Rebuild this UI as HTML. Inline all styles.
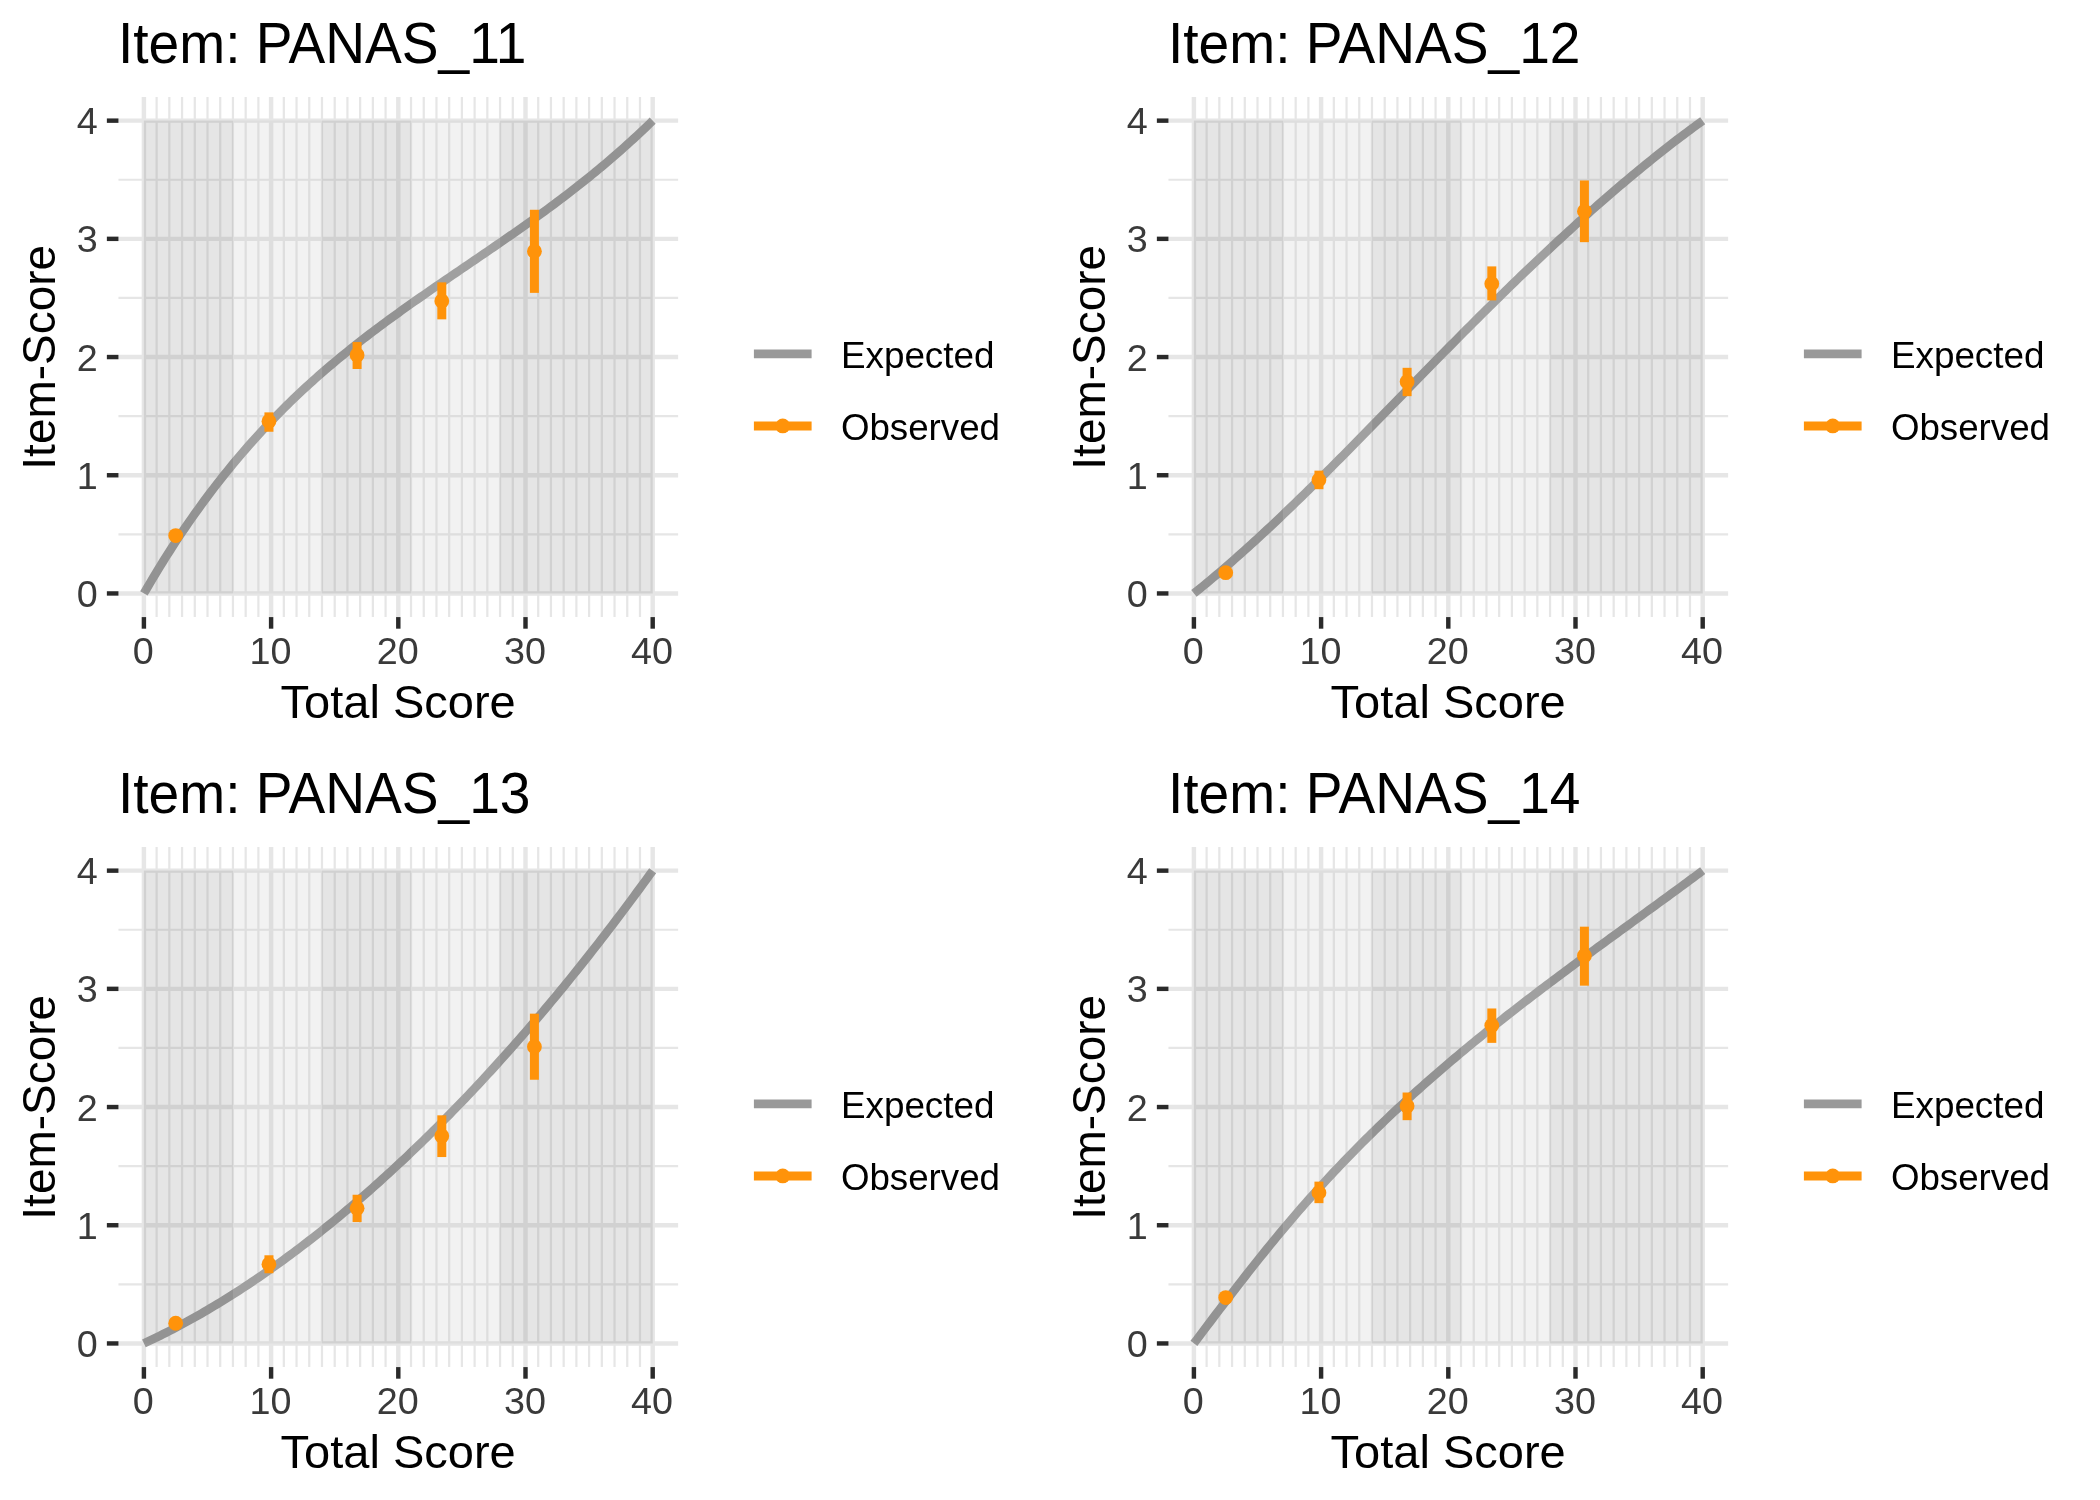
<!DOCTYPE html>
<html><head><meta charset="utf-8"><title>Item plots</title>
<style>
html,body{margin:0;padding:0;background:#fff;}
body{width:2100px;height:1500px;overflow:hidden;}
svg{display:block;font-family:"Liberation Sans",sans-serif;will-change:transform;}
</style></head><body>
<svg width="2100" height="1500" viewBox="0 0 2100 1500">
<rect width="2100" height="1500" fill="#fff"/>
<g transform="translate(0,0)">
<g stroke="#E6E6E6"><line x1="156.62" y1="97.01" x2="156.62" y2="617.09" stroke-width="2.22"/><line x1="169.34" y1="97.01" x2="169.34" y2="617.09" stroke-width="2.22"/><line x1="182.06" y1="97.01" x2="182.06" y2="617.09" stroke-width="2.22"/><line x1="194.78" y1="97.01" x2="194.78" y2="617.09" stroke-width="2.22"/><line x1="207.50" y1="97.01" x2="207.50" y2="617.09" stroke-width="2.22"/><line x1="220.22" y1="97.01" x2="220.22" y2="617.09" stroke-width="2.22"/><line x1="232.94" y1="97.01" x2="232.94" y2="617.09" stroke-width="2.22"/><line x1="245.66" y1="97.01" x2="245.66" y2="617.09" stroke-width="2.22"/><line x1="258.38" y1="97.01" x2="258.38" y2="617.09" stroke-width="2.22"/><line x1="283.82" y1="97.01" x2="283.82" y2="617.09" stroke-width="2.22"/><line x1="296.54" y1="97.01" x2="296.54" y2="617.09" stroke-width="2.22"/><line x1="309.26" y1="97.01" x2="309.26" y2="617.09" stroke-width="2.22"/><line x1="321.98" y1="97.01" x2="321.98" y2="617.09" stroke-width="2.22"/><line x1="334.70" y1="97.01" x2="334.70" y2="617.09" stroke-width="2.22"/><line x1="347.42" y1="97.01" x2="347.42" y2="617.09" stroke-width="2.22"/><line x1="360.14" y1="97.01" x2="360.14" y2="617.09" stroke-width="2.22"/><line x1="372.86" y1="97.01" x2="372.86" y2="617.09" stroke-width="2.22"/><line x1="385.58" y1="97.01" x2="385.58" y2="617.09" stroke-width="2.22"/><line x1="411.02" y1="97.01" x2="411.02" y2="617.09" stroke-width="2.22"/><line x1="423.74" y1="97.01" x2="423.74" y2="617.09" stroke-width="2.22"/><line x1="436.46" y1="97.01" x2="436.46" y2="617.09" stroke-width="2.22"/><line x1="449.18" y1="97.01" x2="449.18" y2="617.09" stroke-width="2.22"/><line x1="461.90" y1="97.01" x2="461.90" y2="617.09" stroke-width="2.22"/><line x1="474.62" y1="97.01" x2="474.62" y2="617.09" stroke-width="2.22"/><line x1="487.34" y1="97.01" x2="487.34" y2="617.09" stroke-width="2.22"/><line x1="500.06" y1="97.01" x2="500.06" y2="617.09" stroke-width="2.22"/><line x1="512.78" y1="97.01" x2="512.78" y2="617.09" stroke-width="2.22"/><line x1="538.22" y1="97.01" x2="538.22" y2="617.09" stroke-width="2.22"/><line x1="550.94" y1="97.01" x2="550.94" y2="617.09" stroke-width="2.22"/><line x1="563.66" y1="97.01" x2="563.66" y2="617.09" stroke-width="2.22"/><line x1="576.38" y1="97.01" x2="576.38" y2="617.09" stroke-width="2.22"/><line x1="589.10" y1="97.01" x2="589.10" y2="617.09" stroke-width="2.22"/><line x1="601.82" y1="97.01" x2="601.82" y2="617.09" stroke-width="2.22"/><line x1="614.54" y1="97.01" x2="614.54" y2="617.09" stroke-width="2.22"/><line x1="627.26" y1="97.01" x2="627.26" y2="617.09" stroke-width="2.22"/><line x1="639.98" y1="97.01" x2="639.98" y2="617.09" stroke-width="2.22"/><line x1="118.46" y1="534.35" x2="678.14" y2="534.35" stroke-width="2.22"/><line x1="118.46" y1="416.15" x2="678.14" y2="416.15" stroke-width="2.22"/><line x1="118.46" y1="297.95" x2="678.14" y2="297.95" stroke-width="2.22"/><line x1="118.46" y1="179.75" x2="678.14" y2="179.75" stroke-width="2.22"/><line x1="143.90" y1="97.01" x2="143.90" y2="617.09" stroke-width="4.44"/><line x1="271.10" y1="97.01" x2="271.10" y2="617.09" stroke-width="4.44"/><line x1="398.30" y1="97.01" x2="398.30" y2="617.09" stroke-width="4.44"/><line x1="525.50" y1="97.01" x2="525.50" y2="617.09" stroke-width="4.44"/><line x1="652.70" y1="97.01" x2="652.70" y2="617.09" stroke-width="4.44"/><line x1="118.46" y1="593.45" x2="678.14" y2="593.45" stroke-width="4.44"/><line x1="118.46" y1="475.25" x2="678.14" y2="475.25" stroke-width="4.44"/><line x1="118.46" y1="357.05" x2="678.14" y2="357.05" stroke-width="4.44"/><line x1="118.46" y1="238.85" x2="678.14" y2="238.85" stroke-width="4.44"/><line x1="118.46" y1="120.65" x2="678.14" y2="120.65" stroke-width="4.44"/></g>
<path d="M143.90,593.45 L147.08,587.98 L150.26,582.57 L153.44,577.24 L156.62,571.97 L159.80,566.77 L162.98,561.64 L166.16,556.58 L169.34,551.58 L172.52,546.64 L175.70,541.77 L178.88,536.96 L182.06,532.22 L185.24,527.53 L188.42,522.91 L191.60,518.34 L194.78,513.84 L197.96,509.39 L201.14,505.00 L204.32,500.66 L207.50,496.38 L210.68,492.16 L213.86,487.99 L217.04,483.87 L220.22,479.81 L223.40,475.79 L226.58,471.83 L229.76,467.92 L232.94,464.05 L236.12,460.24 L239.30,456.47 L242.48,452.75 L245.66,449.07 L248.84,445.44 L252.02,441.85 L255.20,438.31 L258.38,434.81 L261.56,431.35 L264.74,427.94 L267.92,424.56 L271.10,421.23 L274.28,417.93 L277.46,414.68 L280.64,411.46 L283.82,408.28 L287.00,405.13 L290.18,402.03 L293.36,398.95 L296.54,395.92 L299.72,392.91 L302.90,389.94 L306.08,387.01 L309.26,384.10 L312.44,381.23 L315.62,378.38 L318.80,375.57 L321.98,372.78 L325.16,370.03 L328.34,367.30 L331.52,364.60 L334.70,361.92 L337.88,359.27 L341.06,356.65 L344.24,354.05 L347.42,351.47 L350.60,348.92 L353.78,346.39 L356.96,343.88 L360.14,341.39 L363.32,338.92 L366.50,336.47 L369.68,334.04 L372.86,331.63 L376.04,329.23 L379.22,326.85 L382.40,324.49 L385.58,322.14 L388.76,319.81 L391.94,317.49 L395.12,315.18 L398.30,312.89 L401.48,310.61 L404.66,308.34 L407.84,306.08 L411.02,303.83 L414.20,301.59 L417.38,299.36 L420.56,297.14 L423.74,294.92 L426.92,292.72 L430.10,290.52 L433.28,288.32 L436.46,286.13 L439.64,283.95 L442.82,281.77 L446.00,279.60 L449.18,277.43 L452.36,275.26 L455.54,273.10 L458.72,270.93 L461.90,268.77 L465.08,266.61 L468.26,264.45 L471.44,262.29 L474.62,260.12 L477.80,257.96 L480.98,255.80 L484.16,253.63 L487.34,251.46 L490.52,249.28 L493.70,247.10 L496.88,244.92 L500.06,242.73 L503.24,240.53 L506.42,238.33 L509.60,236.13 L512.78,233.91 L515.96,231.69 L519.14,229.45 L522.32,227.21 L525.50,224.96 L528.68,222.70 L531.86,220.43 L535.04,218.14 L538.22,215.85 L541.40,213.54 L544.58,211.22 L547.76,208.89 L550.94,206.54 L554.12,204.18 L557.30,201.80 L560.48,199.40 L563.66,196.99 L566.84,194.57 L570.02,192.12 L573.20,189.66 L576.38,187.18 L579.56,184.68 L582.74,182.16 L585.92,179.62 L589.10,177.06 L592.28,174.48 L595.46,171.87 L598.64,169.25 L601.82,166.60 L605.00,163.93 L608.18,161.23 L611.36,158.51 L614.54,155.76 L617.72,152.99 L620.90,150.19 L624.08,147.37 L627.26,144.52 L630.44,141.64 L633.62,138.73 L636.80,135.79 L639.98,132.82 L643.16,129.83 L646.34,126.80 L649.52,123.74 L652.70,120.65" fill="none" stroke="#999999" stroke-width="8.6" stroke-linecap="butt" stroke-linejoin="round"/>
<rect x="143.90" y="120.65" width="89.04" height="472.80" fill="#7F7F7F" fill-opacity="0.2"/>
<rect x="232.94" y="120.65" width="89.04" height="472.80" fill="#BFBFBF" fill-opacity="0.2"/>
<rect x="321.98" y="120.65" width="89.04" height="472.80" fill="#7F7F7F" fill-opacity="0.2"/>
<rect x="411.02" y="120.65" width="89.04" height="472.80" fill="#BFBFBF" fill-opacity="0.2"/>
<rect x="500.06" y="120.65" width="152.64" height="472.80" fill="#7F7F7F" fill-opacity="0.2"/>
<line x1="268.94" y1="431.75" x2="268.94" y2="412.37" stroke="#FF930A" stroke-width="9.0"/>
<line x1="357.09" y1="368.99" x2="357.09" y2="342.04" stroke="#FF930A" stroke-width="9.0"/>
<line x1="441.80" y1="319.34" x2="441.80" y2="282.35" stroke="#FF930A" stroke-width="9.0"/>
<line x1="534.40" y1="292.87" x2="534.40" y2="209.77" stroke="#FF930A" stroke-width="9.0"/>
<circle cx="175.70" cy="535.53" r="7.4" fill="#FF930A"/>
<circle cx="268.94" cy="421.35" r="7.4" fill="#FF930A"/>
<circle cx="357.09" cy="355.04" r="7.4" fill="#FF930A"/>
<circle cx="441.80" cy="301.02" r="7.4" fill="#FF930A"/>
<circle cx="534.40" cy="251.26" r="7.4" fill="#FF930A"/>
<g stroke="#2A2A2A" stroke-width="4.44"><line x1="143.90" y1="617.09" x2="143.90" y2="628.69"/><line x1="271.10" y1="617.09" x2="271.10" y2="628.69"/><line x1="398.30" y1="617.09" x2="398.30" y2="628.69"/><line x1="525.50" y1="617.09" x2="525.50" y2="628.69"/><line x1="652.70" y1="617.09" x2="652.70" y2="628.69"/><line x1="106.86" y1="593.45" x2="118.46" y2="593.45"/><line x1="106.86" y1="475.25" x2="118.46" y2="475.25"/><line x1="106.86" y1="357.05" x2="118.46" y2="357.05"/><line x1="106.86" y1="238.85" x2="118.46" y2="238.85"/><line x1="106.86" y1="120.65" x2="118.46" y2="120.65"/></g>
<g fill="#3A3A3A" font-size="36.67"><text transform="translate(143.30,664.1) scale(1.03,1.025)" text-anchor="middle">0</text><text transform="translate(270.50,664.1) scale(1.03,1.025)" text-anchor="middle">10</text><text transform="translate(397.70,664.1) scale(1.03,1.025)" text-anchor="middle">20</text><text transform="translate(524.90,664.1) scale(1.03,1.025)" text-anchor="middle">30</text><text transform="translate(652.10,664.1) scale(1.03,1.025)" text-anchor="middle">40</text><text transform="translate(97.7,606.95) scale(1.03,1.025)" text-anchor="end">0</text><text transform="translate(97.7,488.75) scale(1.03,1.025)" text-anchor="end">1</text><text transform="translate(97.7,370.55) scale(1.03,1.025)" text-anchor="end">2</text><text transform="translate(97.7,252.35) scale(1.03,1.025)" text-anchor="end">3</text><text transform="translate(97.7,134.15) scale(1.03,1.025)" text-anchor="end">4</text></g>
<text transform="translate(118.0,62.9) scale(1.002,1.046)" font-size="55">Item: PANAS_11</text>
<text transform="translate(398.16,718.0) scale(1.0257,1.028)" font-size="45.83" text-anchor="middle">Total Score</text>
<text transform="translate(54.9,357.3) rotate(-90) scale(1.003,1.022)" font-size="45.83" text-anchor="middle">Item-Score</text>
<line x1="753.9" y1="353.9" x2="811.6" y2="353.9" stroke="#999999" stroke-width="8.6"/>
<line x1="753.9" y1="425.9" x2="811.6" y2="425.9" stroke="#FF930A" stroke-width="9.0"/>
<circle cx="782.75" cy="425.9" r="7.4" fill="#FF930A"/>
<text transform="translate(840.9,368.0) scale(1.005,1)" font-size="36.67">Expected</text>
<text transform="translate(840.9,440.0) scale(1.001,1)" font-size="36.67">Observed</text>
</g>
<g transform="translate(1050,0)">
<g stroke="#E6E6E6"><line x1="156.62" y1="97.01" x2="156.62" y2="617.09" stroke-width="2.22"/><line x1="169.34" y1="97.01" x2="169.34" y2="617.09" stroke-width="2.22"/><line x1="182.06" y1="97.01" x2="182.06" y2="617.09" stroke-width="2.22"/><line x1="194.78" y1="97.01" x2="194.78" y2="617.09" stroke-width="2.22"/><line x1="207.50" y1="97.01" x2="207.50" y2="617.09" stroke-width="2.22"/><line x1="220.22" y1="97.01" x2="220.22" y2="617.09" stroke-width="2.22"/><line x1="232.94" y1="97.01" x2="232.94" y2="617.09" stroke-width="2.22"/><line x1="245.66" y1="97.01" x2="245.66" y2="617.09" stroke-width="2.22"/><line x1="258.38" y1="97.01" x2="258.38" y2="617.09" stroke-width="2.22"/><line x1="283.82" y1="97.01" x2="283.82" y2="617.09" stroke-width="2.22"/><line x1="296.54" y1="97.01" x2="296.54" y2="617.09" stroke-width="2.22"/><line x1="309.26" y1="97.01" x2="309.26" y2="617.09" stroke-width="2.22"/><line x1="321.98" y1="97.01" x2="321.98" y2="617.09" stroke-width="2.22"/><line x1="334.70" y1="97.01" x2="334.70" y2="617.09" stroke-width="2.22"/><line x1="347.42" y1="97.01" x2="347.42" y2="617.09" stroke-width="2.22"/><line x1="360.14" y1="97.01" x2="360.14" y2="617.09" stroke-width="2.22"/><line x1="372.86" y1="97.01" x2="372.86" y2="617.09" stroke-width="2.22"/><line x1="385.58" y1="97.01" x2="385.58" y2="617.09" stroke-width="2.22"/><line x1="411.02" y1="97.01" x2="411.02" y2="617.09" stroke-width="2.22"/><line x1="423.74" y1="97.01" x2="423.74" y2="617.09" stroke-width="2.22"/><line x1="436.46" y1="97.01" x2="436.46" y2="617.09" stroke-width="2.22"/><line x1="449.18" y1="97.01" x2="449.18" y2="617.09" stroke-width="2.22"/><line x1="461.90" y1="97.01" x2="461.90" y2="617.09" stroke-width="2.22"/><line x1="474.62" y1="97.01" x2="474.62" y2="617.09" stroke-width="2.22"/><line x1="487.34" y1="97.01" x2="487.34" y2="617.09" stroke-width="2.22"/><line x1="500.06" y1="97.01" x2="500.06" y2="617.09" stroke-width="2.22"/><line x1="512.78" y1="97.01" x2="512.78" y2="617.09" stroke-width="2.22"/><line x1="538.22" y1="97.01" x2="538.22" y2="617.09" stroke-width="2.22"/><line x1="550.94" y1="97.01" x2="550.94" y2="617.09" stroke-width="2.22"/><line x1="563.66" y1="97.01" x2="563.66" y2="617.09" stroke-width="2.22"/><line x1="576.38" y1="97.01" x2="576.38" y2="617.09" stroke-width="2.22"/><line x1="589.10" y1="97.01" x2="589.10" y2="617.09" stroke-width="2.22"/><line x1="601.82" y1="97.01" x2="601.82" y2="617.09" stroke-width="2.22"/><line x1="614.54" y1="97.01" x2="614.54" y2="617.09" stroke-width="2.22"/><line x1="627.26" y1="97.01" x2="627.26" y2="617.09" stroke-width="2.22"/><line x1="639.98" y1="97.01" x2="639.98" y2="617.09" stroke-width="2.22"/><line x1="118.46" y1="534.35" x2="678.14" y2="534.35" stroke-width="2.22"/><line x1="118.46" y1="416.15" x2="678.14" y2="416.15" stroke-width="2.22"/><line x1="118.46" y1="297.95" x2="678.14" y2="297.95" stroke-width="2.22"/><line x1="118.46" y1="179.75" x2="678.14" y2="179.75" stroke-width="2.22"/><line x1="143.90" y1="97.01" x2="143.90" y2="617.09" stroke-width="4.44"/><line x1="271.10" y1="97.01" x2="271.10" y2="617.09" stroke-width="4.44"/><line x1="398.30" y1="97.01" x2="398.30" y2="617.09" stroke-width="4.44"/><line x1="525.50" y1="97.01" x2="525.50" y2="617.09" stroke-width="4.44"/><line x1="652.70" y1="97.01" x2="652.70" y2="617.09" stroke-width="4.44"/><line x1="118.46" y1="593.45" x2="678.14" y2="593.45" stroke-width="4.44"/><line x1="118.46" y1="475.25" x2="678.14" y2="475.25" stroke-width="4.44"/><line x1="118.46" y1="357.05" x2="678.14" y2="357.05" stroke-width="4.44"/><line x1="118.46" y1="238.85" x2="678.14" y2="238.85" stroke-width="4.44"/><line x1="118.46" y1="120.65" x2="678.14" y2="120.65" stroke-width="4.44"/></g>
<path d="M143.90,593.45 L147.08,590.90 L150.26,588.33 L153.44,585.73 L156.62,583.11 L159.80,580.47 L162.98,577.81 L166.16,575.13 L169.34,572.43 L172.52,569.71 L175.70,566.97 L178.88,564.21 L182.06,561.44 L185.24,558.64 L188.42,555.83 L191.60,553.00 L194.78,550.15 L197.96,547.28 L201.14,544.40 L204.32,541.50 L207.50,538.59 L210.68,535.66 L213.86,532.71 L217.04,529.75 L220.22,526.77 L223.40,523.79 L226.58,520.78 L229.76,517.77 L232.94,514.74 L236.12,511.70 L239.30,508.64 L242.48,505.58 L245.66,502.50 L248.84,499.41 L252.02,496.31 L255.20,493.20 L258.38,490.07 L261.56,486.94 L264.74,483.80 L267.92,480.65 L271.10,477.49 L274.28,474.33 L277.46,471.15 L280.64,467.97 L283.82,464.77 L287.00,461.58 L290.18,458.37 L293.36,455.16 L296.54,451.94 L299.72,448.72 L302.90,445.49 L306.08,442.26 L309.26,439.02 L312.44,435.77 L315.62,432.53 L318.80,429.28 L321.98,426.02 L325.16,422.77 L328.34,419.51 L331.52,416.25 L334.70,412.98 L337.88,409.72 L341.06,406.45 L344.24,403.18 L347.42,399.92 L350.60,396.65 L353.78,393.38 L356.96,390.12 L360.14,386.85 L363.32,383.59 L366.50,380.32 L369.68,377.06 L372.86,373.80 L376.04,370.55 L379.22,367.29 L382.40,364.05 L385.58,360.80 L388.76,357.56 L391.94,354.32 L395.12,351.09 L398.30,347.86 L401.48,344.64 L404.66,341.42 L407.84,338.21 L411.02,335.01 L414.20,331.81 L417.38,328.62 L420.56,325.43 L423.74,322.25 L426.92,319.08 L430.10,315.92 L433.28,312.76 L436.46,309.61 L439.64,306.46 L442.82,303.33 L446.00,300.20 L449.18,297.08 L452.36,293.96 L455.54,290.86 L458.72,287.76 L461.90,284.68 L465.08,281.60 L468.26,278.53 L471.44,275.46 L474.62,272.41 L477.80,269.37 L480.98,266.33 L484.16,263.31 L487.34,260.29 L490.52,257.29 L493.70,254.29 L496.88,251.31 L500.06,248.33 L503.24,245.37 L506.42,242.41 L509.60,239.47 L512.78,236.54 L515.96,233.62 L519.14,230.71 L522.32,227.81 L525.50,224.92 L528.68,222.05 L531.86,219.18 L535.04,216.33 L538.22,213.49 L541.40,210.66 L544.58,207.85 L547.76,205.05 L550.94,202.26 L554.12,199.48 L557.30,196.72 L560.48,193.97 L563.66,191.23 L566.84,188.51 L570.02,185.80 L573.20,183.10 L576.38,180.42 L579.56,177.75 L582.74,175.10 L585.92,172.46 L589.10,169.83 L592.28,167.22 L595.46,164.63 L598.64,162.05 L601.82,159.49 L605.00,156.94 L608.18,154.40 L611.36,151.89 L614.54,149.38 L617.72,146.90 L620.90,144.43 L624.08,141.97 L627.26,139.54 L630.44,137.12 L633.62,134.71 L636.80,132.33 L639.98,129.96 L643.16,127.60 L646.34,125.27 L649.52,122.95 L652.70,120.65" fill="none" stroke="#999999" stroke-width="8.6" stroke-linecap="butt" stroke-linejoin="round"/>
<rect x="143.90" y="120.65" width="89.04" height="472.80" fill="#7F7F7F" fill-opacity="0.2"/>
<rect x="232.94" y="120.65" width="89.04" height="472.80" fill="#BFBFBF" fill-opacity="0.2"/>
<rect x="321.98" y="120.65" width="89.04" height="472.80" fill="#7F7F7F" fill-opacity="0.2"/>
<rect x="411.02" y="120.65" width="89.04" height="472.80" fill="#BFBFBF" fill-opacity="0.2"/>
<rect x="500.06" y="120.65" width="152.64" height="472.80" fill="#7F7F7F" fill-opacity="0.2"/>
<line x1="268.94" y1="489.20" x2="268.94" y2="470.64" stroke="#FF930A" stroke-width="9.0"/>
<line x1="357.09" y1="396.17" x2="357.09" y2="367.81" stroke="#FF930A" stroke-width="9.0"/>
<line x1="441.80" y1="300.43" x2="441.80" y2="266.39" stroke="#FF930A" stroke-width="9.0"/>
<line x1="534.40" y1="242.16" x2="534.40" y2="180.46" stroke="#FF930A" stroke-width="9.0"/>
<circle cx="175.70" cy="572.65" r="7.4" fill="#FF930A"/>
<circle cx="268.94" cy="479.86" r="7.4" fill="#FF930A"/>
<circle cx="357.09" cy="381.75" r="7.4" fill="#FF930A"/>
<circle cx="441.80" cy="283.77" r="7.4" fill="#FF930A"/>
<circle cx="534.40" cy="211.31" r="7.4" fill="#FF930A"/>
<g stroke="#2A2A2A" stroke-width="4.44"><line x1="143.90" y1="617.09" x2="143.90" y2="628.69"/><line x1="271.10" y1="617.09" x2="271.10" y2="628.69"/><line x1="398.30" y1="617.09" x2="398.30" y2="628.69"/><line x1="525.50" y1="617.09" x2="525.50" y2="628.69"/><line x1="652.70" y1="617.09" x2="652.70" y2="628.69"/><line x1="106.86" y1="593.45" x2="118.46" y2="593.45"/><line x1="106.86" y1="475.25" x2="118.46" y2="475.25"/><line x1="106.86" y1="357.05" x2="118.46" y2="357.05"/><line x1="106.86" y1="238.85" x2="118.46" y2="238.85"/><line x1="106.86" y1="120.65" x2="118.46" y2="120.65"/></g>
<g fill="#3A3A3A" font-size="36.67"><text transform="translate(143.30,664.1) scale(1.03,1.025)" text-anchor="middle">0</text><text transform="translate(270.50,664.1) scale(1.03,1.025)" text-anchor="middle">10</text><text transform="translate(397.70,664.1) scale(1.03,1.025)" text-anchor="middle">20</text><text transform="translate(524.90,664.1) scale(1.03,1.025)" text-anchor="middle">30</text><text transform="translate(652.10,664.1) scale(1.03,1.025)" text-anchor="middle">40</text><text transform="translate(97.7,606.95) scale(1.03,1.025)" text-anchor="end">0</text><text transform="translate(97.7,488.75) scale(1.03,1.025)" text-anchor="end">1</text><text transform="translate(97.7,370.55) scale(1.03,1.025)" text-anchor="end">2</text><text transform="translate(97.7,252.35) scale(1.03,1.025)" text-anchor="end">3</text><text transform="translate(97.7,134.15) scale(1.03,1.025)" text-anchor="end">4</text></g>
<text transform="translate(118.0,62.9) scale(1.002,1.046)" font-size="55">Item: PANAS_12</text>
<text transform="translate(398.16,718.0) scale(1.0257,1.028)" font-size="45.83" text-anchor="middle">Total Score</text>
<text transform="translate(54.9,357.3) rotate(-90) scale(1.003,1.022)" font-size="45.83" text-anchor="middle">Item-Score</text>
<line x1="753.9" y1="353.9" x2="811.6" y2="353.9" stroke="#999999" stroke-width="8.6"/>
<line x1="753.9" y1="425.9" x2="811.6" y2="425.9" stroke="#FF930A" stroke-width="9.0"/>
<circle cx="782.75" cy="425.9" r="7.4" fill="#FF930A"/>
<text transform="translate(840.9,368.0) scale(1.005,1)" font-size="36.67">Expected</text>
<text transform="translate(840.9,440.0) scale(1.001,1)" font-size="36.67">Observed</text>
</g>
<g transform="translate(0,750)">
<g stroke="#E6E6E6"><line x1="156.62" y1="97.01" x2="156.62" y2="617.09" stroke-width="2.22"/><line x1="169.34" y1="97.01" x2="169.34" y2="617.09" stroke-width="2.22"/><line x1="182.06" y1="97.01" x2="182.06" y2="617.09" stroke-width="2.22"/><line x1="194.78" y1="97.01" x2="194.78" y2="617.09" stroke-width="2.22"/><line x1="207.50" y1="97.01" x2="207.50" y2="617.09" stroke-width="2.22"/><line x1="220.22" y1="97.01" x2="220.22" y2="617.09" stroke-width="2.22"/><line x1="232.94" y1="97.01" x2="232.94" y2="617.09" stroke-width="2.22"/><line x1="245.66" y1="97.01" x2="245.66" y2="617.09" stroke-width="2.22"/><line x1="258.38" y1="97.01" x2="258.38" y2="617.09" stroke-width="2.22"/><line x1="283.82" y1="97.01" x2="283.82" y2="617.09" stroke-width="2.22"/><line x1="296.54" y1="97.01" x2="296.54" y2="617.09" stroke-width="2.22"/><line x1="309.26" y1="97.01" x2="309.26" y2="617.09" stroke-width="2.22"/><line x1="321.98" y1="97.01" x2="321.98" y2="617.09" stroke-width="2.22"/><line x1="334.70" y1="97.01" x2="334.70" y2="617.09" stroke-width="2.22"/><line x1="347.42" y1="97.01" x2="347.42" y2="617.09" stroke-width="2.22"/><line x1="360.14" y1="97.01" x2="360.14" y2="617.09" stroke-width="2.22"/><line x1="372.86" y1="97.01" x2="372.86" y2="617.09" stroke-width="2.22"/><line x1="385.58" y1="97.01" x2="385.58" y2="617.09" stroke-width="2.22"/><line x1="411.02" y1="97.01" x2="411.02" y2="617.09" stroke-width="2.22"/><line x1="423.74" y1="97.01" x2="423.74" y2="617.09" stroke-width="2.22"/><line x1="436.46" y1="97.01" x2="436.46" y2="617.09" stroke-width="2.22"/><line x1="449.18" y1="97.01" x2="449.18" y2="617.09" stroke-width="2.22"/><line x1="461.90" y1="97.01" x2="461.90" y2="617.09" stroke-width="2.22"/><line x1="474.62" y1="97.01" x2="474.62" y2="617.09" stroke-width="2.22"/><line x1="487.34" y1="97.01" x2="487.34" y2="617.09" stroke-width="2.22"/><line x1="500.06" y1="97.01" x2="500.06" y2="617.09" stroke-width="2.22"/><line x1="512.78" y1="97.01" x2="512.78" y2="617.09" stroke-width="2.22"/><line x1="538.22" y1="97.01" x2="538.22" y2="617.09" stroke-width="2.22"/><line x1="550.94" y1="97.01" x2="550.94" y2="617.09" stroke-width="2.22"/><line x1="563.66" y1="97.01" x2="563.66" y2="617.09" stroke-width="2.22"/><line x1="576.38" y1="97.01" x2="576.38" y2="617.09" stroke-width="2.22"/><line x1="589.10" y1="97.01" x2="589.10" y2="617.09" stroke-width="2.22"/><line x1="601.82" y1="97.01" x2="601.82" y2="617.09" stroke-width="2.22"/><line x1="614.54" y1="97.01" x2="614.54" y2="617.09" stroke-width="2.22"/><line x1="627.26" y1="97.01" x2="627.26" y2="617.09" stroke-width="2.22"/><line x1="639.98" y1="97.01" x2="639.98" y2="617.09" stroke-width="2.22"/><line x1="118.46" y1="534.35" x2="678.14" y2="534.35" stroke-width="2.22"/><line x1="118.46" y1="416.15" x2="678.14" y2="416.15" stroke-width="2.22"/><line x1="118.46" y1="297.95" x2="678.14" y2="297.95" stroke-width="2.22"/><line x1="118.46" y1="179.75" x2="678.14" y2="179.75" stroke-width="2.22"/><line x1="143.90" y1="97.01" x2="143.90" y2="617.09" stroke-width="4.44"/><line x1="271.10" y1="97.01" x2="271.10" y2="617.09" stroke-width="4.44"/><line x1="398.30" y1="97.01" x2="398.30" y2="617.09" stroke-width="4.44"/><line x1="525.50" y1="97.01" x2="525.50" y2="617.09" stroke-width="4.44"/><line x1="652.70" y1="97.01" x2="652.70" y2="617.09" stroke-width="4.44"/><line x1="118.46" y1="593.45" x2="678.14" y2="593.45" stroke-width="4.44"/><line x1="118.46" y1="475.25" x2="678.14" y2="475.25" stroke-width="4.44"/><line x1="118.46" y1="357.05" x2="678.14" y2="357.05" stroke-width="4.44"/><line x1="118.46" y1="238.85" x2="678.14" y2="238.85" stroke-width="4.44"/><line x1="118.46" y1="120.65" x2="678.14" y2="120.65" stroke-width="4.44"/></g>
<path d="M143.90,593.45 L147.08,591.96 L150.26,590.45 L153.44,588.93 L156.62,587.38 L159.80,585.81 L162.98,584.22 L166.16,582.61 L169.34,580.99 L172.52,579.34 L175.70,577.68 L178.88,575.99 L182.06,574.29 L185.24,572.56 L188.42,570.82 L191.60,569.06 L194.78,567.27 L197.96,565.47 L201.14,563.65 L204.32,561.81 L207.50,559.95 L210.68,558.08 L213.86,556.18 L217.04,554.26 L220.22,552.33 L223.40,550.37 L226.58,548.40 L229.76,546.41 L232.94,544.39 L236.12,542.36 L239.30,540.31 L242.48,538.25 L245.66,536.16 L248.84,534.05 L252.02,531.93 L255.20,529.79 L258.38,527.62 L261.56,525.44 L264.74,523.24 L267.92,521.03 L271.10,518.79 L274.28,516.54 L277.46,514.26 L280.64,511.97 L283.82,509.66 L287.00,507.33 L290.18,504.98 L293.36,502.62 L296.54,500.23 L299.72,497.83 L302.90,495.41 L306.08,492.97 L309.26,490.52 L312.44,488.04 L315.62,485.55 L318.80,483.04 L321.98,480.51 L325.16,477.96 L328.34,475.40 L331.52,472.81 L334.70,470.21 L337.88,467.59 L341.06,464.96 L344.24,462.30 L347.42,459.63 L350.60,456.94 L353.78,454.23 L356.96,451.51 L360.14,448.76 L363.32,446.00 L366.50,443.22 L369.68,440.43 L372.86,437.61 L376.04,434.78 L379.22,431.93 L382.40,429.06 L385.58,426.18 L388.76,423.28 L391.94,420.36 L395.12,417.42 L398.30,414.47 L401.48,411.50 L404.66,408.51 L407.84,405.51 L411.02,402.49 L414.20,399.45 L417.38,396.39 L420.56,393.31 L423.74,390.22 L426.92,387.11 L430.10,383.99 L433.28,380.84 L436.46,377.68 L439.64,374.50 L442.82,371.30 L446.00,368.09 L449.18,364.86 L452.36,361.61 L455.54,358.34 L458.72,355.06 L461.90,351.75 L465.08,348.43 L468.26,345.10 L471.44,341.74 L474.62,338.37 L477.80,334.98 L480.98,331.57 L484.16,328.14 L487.34,324.70 L490.52,321.24 L493.70,317.76 L496.88,314.26 L500.06,310.74 L503.24,307.21 L506.42,303.66 L509.60,300.09 L512.78,296.50 L515.96,292.90 L519.14,289.28 L522.32,285.63 L525.50,281.98 L528.68,278.30 L531.86,274.60 L535.04,270.89 L538.22,267.16 L541.40,263.41 L544.58,259.64 L547.76,255.86 L550.94,252.06 L554.12,248.23 L557.30,244.39 L560.48,240.54 L563.66,236.66 L566.84,232.77 L570.02,228.85 L573.20,224.92 L576.38,220.97 L579.56,217.00 L582.74,213.02 L585.92,209.01 L589.10,204.99 L592.28,200.95 L595.46,196.89 L598.64,192.81 L601.82,188.72 L605.00,184.60 L608.18,180.47 L611.36,176.32 L614.54,172.15 L617.72,167.96 L620.90,163.75 L624.08,159.52 L627.26,155.28 L630.44,151.02 L633.62,146.73 L636.80,142.43 L639.98,138.11 L643.16,133.78 L646.34,129.42 L649.52,125.04 L652.70,120.65" fill="none" stroke="#999999" stroke-width="8.6" stroke-linecap="butt" stroke-linejoin="round"/>
<rect x="143.90" y="120.65" width="89.04" height="472.80" fill="#7F7F7F" fill-opacity="0.2"/>
<rect x="232.94" y="120.65" width="89.04" height="472.80" fill="#BFBFBF" fill-opacity="0.2"/>
<rect x="321.98" y="120.65" width="89.04" height="472.80" fill="#7F7F7F" fill-opacity="0.2"/>
<rect x="411.02" y="120.65" width="89.04" height="472.80" fill="#BFBFBF" fill-opacity="0.2"/>
<rect x="500.06" y="120.65" width="152.64" height="472.80" fill="#7F7F7F" fill-opacity="0.2"/>
<line x1="268.94" y1="523.24" x2="268.94" y2="505.27" stroke="#FF930A" stroke-width="9.0"/>
<line x1="357.09" y1="472.06" x2="357.09" y2="444.75" stroke="#FF930A" stroke-width="9.0"/>
<line x1="441.80" y1="407.05" x2="441.80" y2="365.32" stroke="#FF930A" stroke-width="9.0"/>
<line x1="534.40" y1="329.75" x2="534.40" y2="263.67" stroke="#FF930A" stroke-width="9.0"/>
<circle cx="175.70" cy="573.24" r="7.4" fill="#FF930A"/>
<circle cx="268.94" cy="514.26" r="7.4" fill="#FF930A"/>
<circle cx="357.09" cy="458.23" r="7.4" fill="#FF930A"/>
<circle cx="441.80" cy="386.01" r="7.4" fill="#FF930A"/>
<circle cx="534.40" cy="296.77" r="7.4" fill="#FF930A"/>
<g stroke="#2A2A2A" stroke-width="4.44"><line x1="143.90" y1="617.09" x2="143.90" y2="628.69"/><line x1="271.10" y1="617.09" x2="271.10" y2="628.69"/><line x1="398.30" y1="617.09" x2="398.30" y2="628.69"/><line x1="525.50" y1="617.09" x2="525.50" y2="628.69"/><line x1="652.70" y1="617.09" x2="652.70" y2="628.69"/><line x1="106.86" y1="593.45" x2="118.46" y2="593.45"/><line x1="106.86" y1="475.25" x2="118.46" y2="475.25"/><line x1="106.86" y1="357.05" x2="118.46" y2="357.05"/><line x1="106.86" y1="238.85" x2="118.46" y2="238.85"/><line x1="106.86" y1="120.65" x2="118.46" y2="120.65"/></g>
<g fill="#3A3A3A" font-size="36.67"><text transform="translate(143.30,664.1) scale(1.03,1.025)" text-anchor="middle">0</text><text transform="translate(270.50,664.1) scale(1.03,1.025)" text-anchor="middle">10</text><text transform="translate(397.70,664.1) scale(1.03,1.025)" text-anchor="middle">20</text><text transform="translate(524.90,664.1) scale(1.03,1.025)" text-anchor="middle">30</text><text transform="translate(652.10,664.1) scale(1.03,1.025)" text-anchor="middle">40</text><text transform="translate(97.7,606.95) scale(1.03,1.025)" text-anchor="end">0</text><text transform="translate(97.7,488.75) scale(1.03,1.025)" text-anchor="end">1</text><text transform="translate(97.7,370.55) scale(1.03,1.025)" text-anchor="end">2</text><text transform="translate(97.7,252.35) scale(1.03,1.025)" text-anchor="end">3</text><text transform="translate(97.7,134.15) scale(1.03,1.025)" text-anchor="end">4</text></g>
<text transform="translate(118.0,62.9) scale(1.002,1.046)" font-size="55">Item: PANAS_13</text>
<text transform="translate(398.16,718.0) scale(1.0257,1.028)" font-size="45.83" text-anchor="middle">Total Score</text>
<text transform="translate(54.9,357.3) rotate(-90) scale(1.003,1.022)" font-size="45.83" text-anchor="middle">Item-Score</text>
<line x1="753.9" y1="353.9" x2="811.6" y2="353.9" stroke="#999999" stroke-width="8.6"/>
<line x1="753.9" y1="425.9" x2="811.6" y2="425.9" stroke="#FF930A" stroke-width="9.0"/>
<circle cx="782.75" cy="425.9" r="7.4" fill="#FF930A"/>
<text transform="translate(840.9,368.0) scale(1.005,1)" font-size="36.67">Expected</text>
<text transform="translate(840.9,440.0) scale(1.001,1)" font-size="36.67">Observed</text>
</g>
<g transform="translate(1050,750)">
<g stroke="#E6E6E6"><line x1="156.62" y1="97.01" x2="156.62" y2="617.09" stroke-width="2.22"/><line x1="169.34" y1="97.01" x2="169.34" y2="617.09" stroke-width="2.22"/><line x1="182.06" y1="97.01" x2="182.06" y2="617.09" stroke-width="2.22"/><line x1="194.78" y1="97.01" x2="194.78" y2="617.09" stroke-width="2.22"/><line x1="207.50" y1="97.01" x2="207.50" y2="617.09" stroke-width="2.22"/><line x1="220.22" y1="97.01" x2="220.22" y2="617.09" stroke-width="2.22"/><line x1="232.94" y1="97.01" x2="232.94" y2="617.09" stroke-width="2.22"/><line x1="245.66" y1="97.01" x2="245.66" y2="617.09" stroke-width="2.22"/><line x1="258.38" y1="97.01" x2="258.38" y2="617.09" stroke-width="2.22"/><line x1="283.82" y1="97.01" x2="283.82" y2="617.09" stroke-width="2.22"/><line x1="296.54" y1="97.01" x2="296.54" y2="617.09" stroke-width="2.22"/><line x1="309.26" y1="97.01" x2="309.26" y2="617.09" stroke-width="2.22"/><line x1="321.98" y1="97.01" x2="321.98" y2="617.09" stroke-width="2.22"/><line x1="334.70" y1="97.01" x2="334.70" y2="617.09" stroke-width="2.22"/><line x1="347.42" y1="97.01" x2="347.42" y2="617.09" stroke-width="2.22"/><line x1="360.14" y1="97.01" x2="360.14" y2="617.09" stroke-width="2.22"/><line x1="372.86" y1="97.01" x2="372.86" y2="617.09" stroke-width="2.22"/><line x1="385.58" y1="97.01" x2="385.58" y2="617.09" stroke-width="2.22"/><line x1="411.02" y1="97.01" x2="411.02" y2="617.09" stroke-width="2.22"/><line x1="423.74" y1="97.01" x2="423.74" y2="617.09" stroke-width="2.22"/><line x1="436.46" y1="97.01" x2="436.46" y2="617.09" stroke-width="2.22"/><line x1="449.18" y1="97.01" x2="449.18" y2="617.09" stroke-width="2.22"/><line x1="461.90" y1="97.01" x2="461.90" y2="617.09" stroke-width="2.22"/><line x1="474.62" y1="97.01" x2="474.62" y2="617.09" stroke-width="2.22"/><line x1="487.34" y1="97.01" x2="487.34" y2="617.09" stroke-width="2.22"/><line x1="500.06" y1="97.01" x2="500.06" y2="617.09" stroke-width="2.22"/><line x1="512.78" y1="97.01" x2="512.78" y2="617.09" stroke-width="2.22"/><line x1="538.22" y1="97.01" x2="538.22" y2="617.09" stroke-width="2.22"/><line x1="550.94" y1="97.01" x2="550.94" y2="617.09" stroke-width="2.22"/><line x1="563.66" y1="97.01" x2="563.66" y2="617.09" stroke-width="2.22"/><line x1="576.38" y1="97.01" x2="576.38" y2="617.09" stroke-width="2.22"/><line x1="589.10" y1="97.01" x2="589.10" y2="617.09" stroke-width="2.22"/><line x1="601.82" y1="97.01" x2="601.82" y2="617.09" stroke-width="2.22"/><line x1="614.54" y1="97.01" x2="614.54" y2="617.09" stroke-width="2.22"/><line x1="627.26" y1="97.01" x2="627.26" y2="617.09" stroke-width="2.22"/><line x1="639.98" y1="97.01" x2="639.98" y2="617.09" stroke-width="2.22"/><line x1="118.46" y1="534.35" x2="678.14" y2="534.35" stroke-width="2.22"/><line x1="118.46" y1="416.15" x2="678.14" y2="416.15" stroke-width="2.22"/><line x1="118.46" y1="297.95" x2="678.14" y2="297.95" stroke-width="2.22"/><line x1="118.46" y1="179.75" x2="678.14" y2="179.75" stroke-width="2.22"/><line x1="143.90" y1="97.01" x2="143.90" y2="617.09" stroke-width="4.44"/><line x1="271.10" y1="97.01" x2="271.10" y2="617.09" stroke-width="4.44"/><line x1="398.30" y1="97.01" x2="398.30" y2="617.09" stroke-width="4.44"/><line x1="525.50" y1="97.01" x2="525.50" y2="617.09" stroke-width="4.44"/><line x1="652.70" y1="97.01" x2="652.70" y2="617.09" stroke-width="4.44"/><line x1="118.46" y1="593.45" x2="678.14" y2="593.45" stroke-width="4.44"/><line x1="118.46" y1="475.25" x2="678.14" y2="475.25" stroke-width="4.44"/><line x1="118.46" y1="357.05" x2="678.14" y2="357.05" stroke-width="4.44"/><line x1="118.46" y1="238.85" x2="678.14" y2="238.85" stroke-width="4.44"/><line x1="118.46" y1="120.65" x2="678.14" y2="120.65" stroke-width="4.44"/></g>
<path d="M143.90,593.45 L147.08,589.21 L150.26,584.98 L153.44,580.75 L156.62,576.53 L159.80,572.32 L162.98,568.12 L166.16,563.92 L169.34,559.74 L172.52,555.57 L175.70,551.41 L178.88,547.27 L182.06,543.13 L185.24,539.02 L188.42,534.91 L191.60,530.82 L194.78,526.75 L197.96,522.70 L201.14,518.66 L204.32,514.65 L207.50,510.65 L210.68,506.67 L213.86,502.72 L217.04,498.78 L220.22,494.87 L223.40,490.98 L226.58,487.12 L229.76,483.28 L232.94,479.46 L236.12,475.68 L239.30,471.92 L242.48,468.18 L245.66,464.48 L248.84,460.80 L252.02,457.15 L255.20,453.52 L258.38,449.93 L261.56,446.35 L264.74,442.81 L267.92,439.29 L271.10,435.79 L274.28,432.32 L277.46,428.88 L280.64,425.46 L283.82,422.06 L287.00,418.69 L290.18,415.34 L293.36,412.01 L296.54,408.71 L299.72,405.43 L302.90,402.17 L306.08,398.93 L309.26,395.72 L312.44,392.53 L315.62,389.36 L318.80,386.21 L321.98,383.08 L325.16,379.97 L328.34,376.88 L331.52,373.82 L334.70,370.77 L337.88,367.74 L341.06,364.73 L344.24,361.74 L347.42,358.76 L350.60,355.81 L353.78,352.87 L356.96,349.95 L360.14,347.05 L363.32,344.17 L366.50,341.30 L369.68,338.45 L372.86,335.62 L376.04,332.80 L379.22,329.99 L382.40,327.21 L385.58,324.43 L388.76,321.68 L391.94,318.93 L395.12,316.21 L398.30,313.49 L401.48,310.79 L404.66,308.10 L407.84,305.43 L411.02,302.77 L414.20,300.12 L417.38,297.49 L420.56,294.86 L423.74,292.25 L426.92,289.65 L430.10,287.07 L433.28,284.49 L436.46,281.92 L439.64,279.37 L442.82,276.83 L446.00,274.29 L449.18,271.77 L452.36,269.26 L455.54,266.75 L458.72,264.26 L461.90,261.78 L465.08,259.30 L468.26,256.83 L471.44,254.38 L474.62,251.93 L477.80,249.48 L480.98,247.05 L484.16,244.62 L487.34,242.21 L490.52,239.79 L493.70,237.39 L496.88,234.99 L500.06,232.60 L503.24,230.21 L506.42,227.83 L509.60,225.46 L512.78,223.09 L515.96,220.73 L519.14,218.37 L522.32,216.01 L525.50,213.66 L528.68,211.32 L531.86,208.98 L535.04,206.64 L538.22,204.31 L541.40,201.98 L544.58,199.65 L547.76,197.32 L550.94,195.00 L554.12,192.68 L557.30,190.36 L560.48,188.05 L563.66,185.73 L566.84,183.42 L570.02,181.11 L573.20,178.80 L576.38,176.49 L579.56,174.18 L582.74,171.87 L585.92,169.56 L589.10,167.25 L592.28,164.94 L595.46,162.63 L598.64,160.32 L601.82,158.01 L605.00,155.70 L608.18,153.38 L611.36,151.06 L614.54,148.74 L617.72,146.42 L620.90,144.09 L624.08,141.77 L627.26,139.44 L630.44,137.10 L633.62,134.76 L636.80,132.42 L639.98,130.08 L643.16,127.73 L646.34,125.37 L649.52,123.01 L652.70,120.65" fill="none" stroke="#999999" stroke-width="8.6" stroke-linecap="butt" stroke-linejoin="round"/>
<rect x="143.90" y="120.65" width="89.04" height="472.80" fill="#7F7F7F" fill-opacity="0.2"/>
<rect x="232.94" y="120.65" width="89.04" height="472.80" fill="#BFBFBF" fill-opacity="0.2"/>
<rect x="321.98" y="120.65" width="89.04" height="472.80" fill="#7F7F7F" fill-opacity="0.2"/>
<rect x="411.02" y="120.65" width="89.04" height="472.80" fill="#BFBFBF" fill-opacity="0.2"/>
<rect x="500.06" y="120.65" width="152.64" height="472.80" fill="#7F7F7F" fill-opacity="0.2"/>
<line x1="268.94" y1="453.15" x2="268.94" y2="431.63" stroke="#FF930A" stroke-width="9.0"/>
<line x1="357.09" y1="370.17" x2="357.09" y2="342.51" stroke="#FF930A" stroke-width="9.0"/>
<line x1="441.80" y1="292.87" x2="441.80" y2="258.47" stroke="#FF930A" stroke-width="9.0"/>
<line x1="534.40" y1="235.66" x2="534.40" y2="176.68" stroke="#FF930A" stroke-width="9.0"/>
<circle cx="175.70" cy="547.59" r="7.4" fill="#FF930A"/>
<circle cx="268.94" cy="442.63" r="7.4" fill="#FF930A"/>
<circle cx="357.09" cy="356.10" r="7.4" fill="#FF930A"/>
<circle cx="441.80" cy="275.49" r="7.4" fill="#FF930A"/>
<circle cx="534.40" cy="205.75" r="7.4" fill="#FF930A"/>
<g stroke="#2A2A2A" stroke-width="4.44"><line x1="143.90" y1="617.09" x2="143.90" y2="628.69"/><line x1="271.10" y1="617.09" x2="271.10" y2="628.69"/><line x1="398.30" y1="617.09" x2="398.30" y2="628.69"/><line x1="525.50" y1="617.09" x2="525.50" y2="628.69"/><line x1="652.70" y1="617.09" x2="652.70" y2="628.69"/><line x1="106.86" y1="593.45" x2="118.46" y2="593.45"/><line x1="106.86" y1="475.25" x2="118.46" y2="475.25"/><line x1="106.86" y1="357.05" x2="118.46" y2="357.05"/><line x1="106.86" y1="238.85" x2="118.46" y2="238.85"/><line x1="106.86" y1="120.65" x2="118.46" y2="120.65"/></g>
<g fill="#3A3A3A" font-size="36.67"><text transform="translate(143.30,664.1) scale(1.03,1.025)" text-anchor="middle">0</text><text transform="translate(270.50,664.1) scale(1.03,1.025)" text-anchor="middle">10</text><text transform="translate(397.70,664.1) scale(1.03,1.025)" text-anchor="middle">20</text><text transform="translate(524.90,664.1) scale(1.03,1.025)" text-anchor="middle">30</text><text transform="translate(652.10,664.1) scale(1.03,1.025)" text-anchor="middle">40</text><text transform="translate(97.7,606.95) scale(1.03,1.025)" text-anchor="end">0</text><text transform="translate(97.7,488.75) scale(1.03,1.025)" text-anchor="end">1</text><text transform="translate(97.7,370.55) scale(1.03,1.025)" text-anchor="end">2</text><text transform="translate(97.7,252.35) scale(1.03,1.025)" text-anchor="end">3</text><text transform="translate(97.7,134.15) scale(1.03,1.025)" text-anchor="end">4</text></g>
<text transform="translate(118.0,62.9) scale(1.002,1.046)" font-size="55">Item: PANAS_14</text>
<text transform="translate(398.16,718.0) scale(1.0257,1.028)" font-size="45.83" text-anchor="middle">Total Score</text>
<text transform="translate(54.9,357.3) rotate(-90) scale(1.003,1.022)" font-size="45.83" text-anchor="middle">Item-Score</text>
<line x1="753.9" y1="353.9" x2="811.6" y2="353.9" stroke="#999999" stroke-width="8.6"/>
<line x1="753.9" y1="425.9" x2="811.6" y2="425.9" stroke="#FF930A" stroke-width="9.0"/>
<circle cx="782.75" cy="425.9" r="7.4" fill="#FF930A"/>
<text transform="translate(840.9,368.0) scale(1.005,1)" font-size="36.67">Expected</text>
<text transform="translate(840.9,440.0) scale(1.001,1)" font-size="36.67">Observed</text>
</g>
</svg>
</body></html>
